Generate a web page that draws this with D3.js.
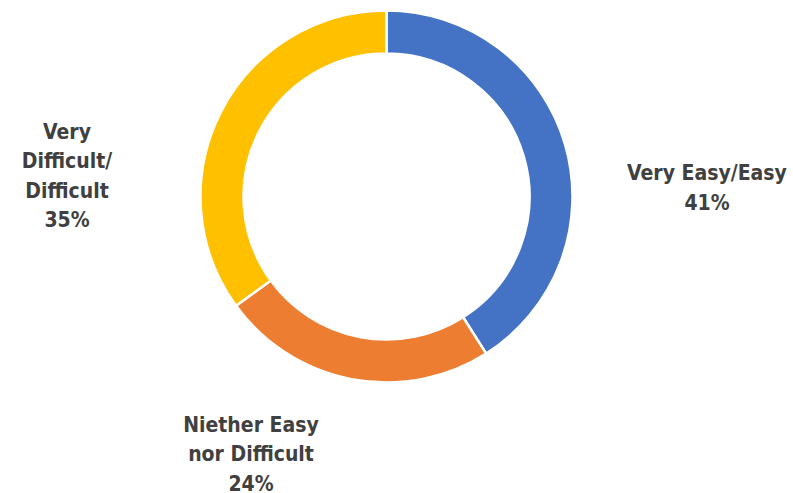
<!DOCTYPE html>
<html>
<head>
<meta charset="utf-8">
<script src="https://cdn.jsdelivr.net/npm/d3@7/dist/d3.min.js"></script>
<style>
  html, body { margin: 0; padding: 0; background: #fff; }
  svg { display: block; }
</style>
</head>
<body>
<div id="chart"></div>
<script>
// data
const categories = ['Very Easy/Easy', 'Niether Easy nor Difficult', 'Very Difficult/ Difficult'];
const values = [41, 24, 35];
const colors = ['#4472C4', '#ED7D31', '#FFC000'];
// label text split into lines
const labelLines = [
  ['Very Easy/Easy', '41%'],
  ['Niether Easy', 'nor Difficult', '24%'],
  ['Very', 'Difficult/', 'Difficult', '35%']
];

const width = 793, height = 493;
const cx = 386.5, cy = 196.5;
const outerR = 186, innerR = 143;
// where each label block is centred (x, y of block middle)
const labelPos = [[707, 188], [251, 454], [67, 176]];
const lineH = 29.5;

const svg = d3.select('#chart').append('svg')
    .attr('width', width)
    .attr('height', height);

const pie = d3.pie().sort(null).value(d => d);
const arc = d3.arc().innerRadius(innerR).outerRadius(outerR);

const g = svg.append('g').attr('transform', `translate(${cx},${cy})`);

g.selectAll('path')
    .data(pie(values))
    .enter().append('path')
    .attr('d', arc)
    .attr('fill', (d, i) => colors[i])
    .attr('stroke', '#fff')
    .attr('stroke-width', 2.5);

labelLines.forEach((lines, i) => {
    const [lx, ly] = labelPos[i];
    const top = ly - (lines.length - 1) * lineH / 2;
    const t = svg.append('text')
        .attr('text-anchor', 'middle')
        .attr('dominant-baseline', 'central')
        .style('font-family', '"DejaVu Sans Condensed", "DejaVu Sans", sans-serif')
        .style('font-weight', 'bold')
        .style('font-size', '21px')
        .attr('fill', '#404040');
    lines.forEach((s, j) => {
        t.append('tspan')
            .attr('x', lx)
            .attr('y', top + j * lineH)
            .text(s);
    });
});
</script>
</body>
</html>
